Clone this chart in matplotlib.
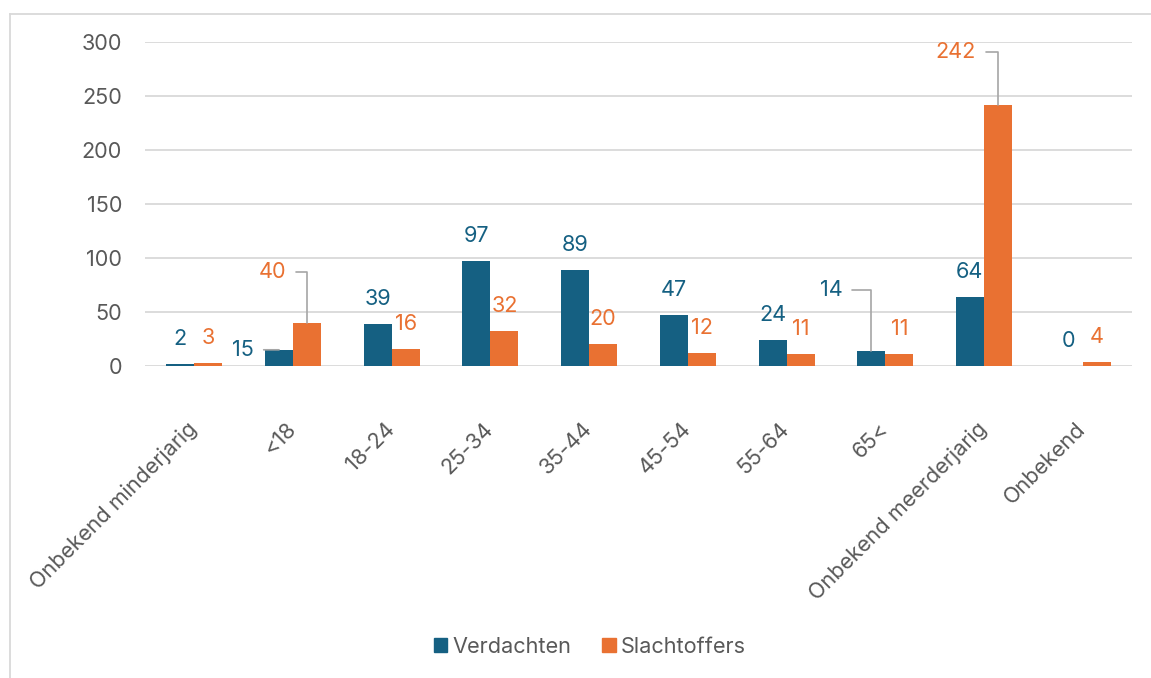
import matplotlib
matplotlib.use('Agg')
import matplotlib.pyplot as plt
from matplotlib.transforms import ScaledTranslation
from matplotlib.lines import Line2D
from matplotlib.patches import Patch
import numpy as np

categories = ["Onbekend minderjarig", "<18", "18-24", "25-34", "35-44", "45-54",
              "55-64", "65<", "Onbekend meerderjarig", "Onbekend"]
verdachten = [2, 15, 39, 97, 89, 47, 24, 14, 64, 0]
slachtoffers = [3, 40, 16, 32, 20, 12, 11, 11, 242, 4]
series_names = ["Verdachten", "Slachtoffers"]
yticks = [0, 50, 100, 150, 200, 250, 300]

BLUE = '#156082'
ORANGE = '#E97132'
TEXT = '#595959'
GRID = '#D9D9D9'
LEADER = '#A6A6A6'
FS = 15.6

plt.rcParams['font.family'] = ['Inter', 'DejaVu Sans']

W, H = 1151, 678
fig = plt.figure(figsize=(W / 100, H / 100), dpi=100)
ax = fig.add_axes([145 / W, 1 - 366 / H, (1132 - 145) / W, (366 - 42) / H])

x = np.arange(len(categories))
w = 0.284
ax.bar(x - w / 2, verdachten, w, color=BLUE, zorder=3)
ax.bar(x + w / 2, slachtoffers, w, color=ORANGE, zorder=3)

ax.set_xlim(-0.5, len(categories) - 0.5)
ax.set_ylim(0, 300)
ax.set_yticks(yticks)
ax.yaxis.grid(True, color=GRID, linewidth=1.3, zorder=0)
ax.set_axisbelow(True)
for s in ax.spines.values():
    s.set_visible(False)

ax.tick_params(axis='both', length=0, labelsize=FS, labelcolor=TEXT)
ax.tick_params(axis='y', pad=16.5)
ax.set_xticks(x)
ax.set_xticklabels(categories, rotation=45, ha='right', va='baseline',
                   rotation_mode='anchor')
ax.tick_params(axis='x', pad=46)
off = ScaledTranslation(4 / 100, 0, fig.dpi_scale_trans)
for lab in ax.get_xticklabels():
    lab.set_transform(lab.get_transform() + off)

# data labels
px = 0.72  # points per pixel at dpi 100
special = {
    (0, 1): ((-36, 0), 'straight'),
    (1, 1): ((-35, 51), 'angle'),
    (0, 7): ((-40, 61), 'angle'),
    (1, 8): ((-42, 53), 'angle'),
}
for si, (vals, col) in enumerate([(verdachten, BLUE), (slachtoffers, ORANGE)]):
    xs = x - w / 2 if si == 0 else x + w / 2
    for i, v in enumerate(vals):
        key = (si, i)
        if key in special:
            (dx, dy), kind = special[key]
            cs = 'arc3,rad=0' if kind == 'straight' else 'angle,angleA=0,angleB=90,rad=0'
            ax.annotate(str(v), xy=(xs[i], v), xytext=(dx * px, dy * px),
                        textcoords='offset points', ha='center', va='center',
                        color=col, fontsize=FS, zorder=5,
                        arrowprops=dict(arrowstyle='-', color=LEADER, lw=1.2,
                                        connectionstyle=cs, relpos=(1, 0.5),
                                        shrinkA=5, shrinkB=0))
        else:
            ax.annotate(str(v), xy=(xs[i], v), xytext=(0, 25 * px),
                        textcoords='offset points', ha='center', va='center',
                        color=col, fontsize=FS, zorder=5)

handles = [Patch(color=BLUE, label=series_names[0]),
           Patch(color=ORANGE, label=series_names[1])]
fig.legend(handles=handles, loc='center', bbox_to_anchor=(590 / W, 1 - 647 / H),
           ncol=2, frameon=False, fontsize=FS, labelcolor=TEXT,
           handlelength=0.62, handleheight=0.62, handletextpad=0.25,
           columnspacing=1.4)

# outer frame (left and top)
fig.add_artist(Line2D([9.5 / W, 9.5 / W], [0, 1 - 14 / H], transform=fig.transFigure,
                      color=GRID, lw=1.3))
fig.add_artist(Line2D([9.5 / W, 1], [1 - 14 / H, 1 - 14 / H], transform=fig.transFigure,
                      color=GRID, lw=1.3))

fig.savefig('out.png', dpi=100, facecolor='white')
